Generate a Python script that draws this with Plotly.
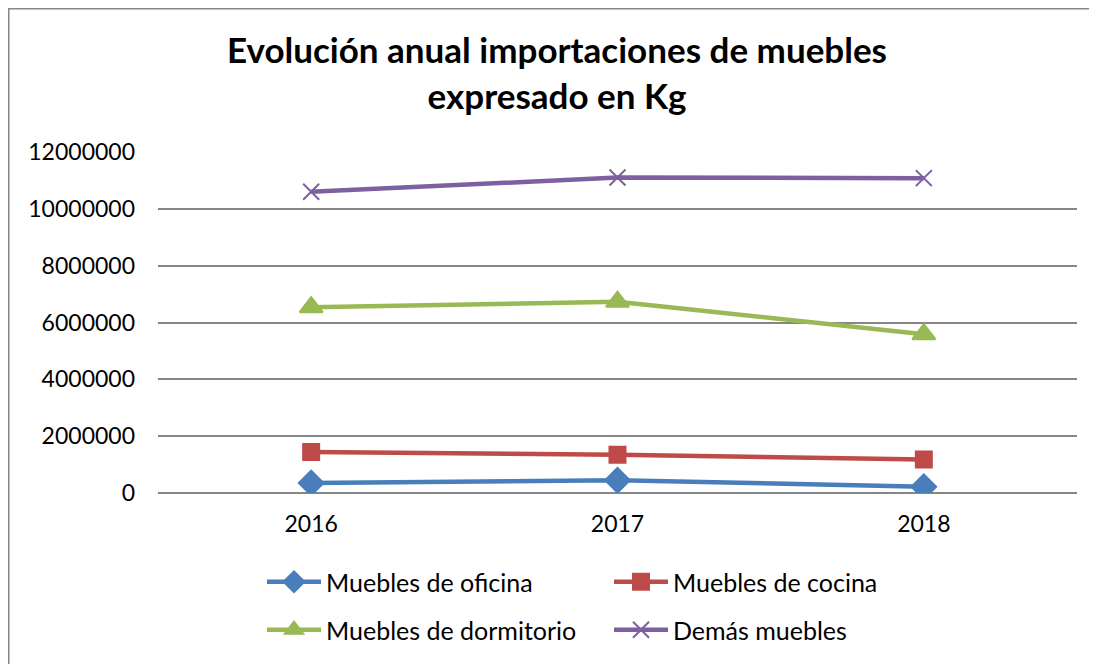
import plotly.graph_objects as go

years = ["2016", "2017", "2018"]
oficina = [350000, 450000, 220000]
cocina = [1440000, 1350000, 1180000]
dormitorio = [6540000, 6730000, 5590000]
demas = [10600000, 11100000, 11080000]
y_ticks = [0, 2000000, 4000000, 6000000, 8000000, 10000000, 12000000]

FONT = "Lato"
W, H = 1097, 664
OFF = 8  # page offset of the figure (body margin)
# plot area in figure pixels
L, R, T, B = 158 - OFF, 1077 - OFF, 152 - OFF, 493 - OFF

series = [
    ("Muebles de oficina", oficina, "#4A7EBB", "diamond", 19, "legend"),
    ("Muebles de cocina", cocina, "#BE4B48", "square", 16, "legend"),
    ("Muebles de dormitorio", dormitorio, "#98B954", "triangle-up", 20, "legend2"),
    ("Demás muebles", demas, "#7D60A0", "x-thin", 16, "legend2"),
]

fig = go.Figure()
for name, vals, col, sym, sz, lg in series:
    fig.add_trace(go.Scatter(
        x=years, y=vals, name=name, mode="lines+markers",
        line=dict(color=col, width=4.5),
        marker=dict(symbol=sym, size=sz, color=col, line=dict(color=col, width=2)),
        legend=lg,
    ))

pw, ph = R - L, B - T
def px_x(x):
    return (x - OFF - L) / pw
def px_y(y):
    return (B - (y - OFF)) / ph

GRID = "#868686"
leg_common = dict(
    orientation="h", xanchor="left", yanchor="middle",
    entrywidth=278, entrywidthmode="pixels", font=dict(size=25),
    bgcolor="rgba(0,0,0,0)", itemwidth=54,
)
fig.update_layout(
    width=W, height=H,
    margin=dict(l=L, r=W - R, t=T, b=H - B),
    paper_bgcolor="white", plot_bgcolor="white",
    font=dict(family=FONT, size=23, color="#000000"),
    title=dict(
        text="<b>Evolución anual importaciones de muebles<br>expresado en Kg</b>",
        x=(557 - OFF) / W, xanchor="center", xref="container",
        y=1 - 55 / H, yanchor="top", yref="container",
        font=dict(family=FONT, size=35, color="#000000"),
    ),
    xaxis=dict(
        type="category", range=[-0.5, 2.5], showgrid=False, showline=False,
        ticks="", tickfont=dict(size=23), zeroline=False, ticklabelstandoff=15,
    ),
    yaxis=dict(
        range=[0, 12000000], tickvals=y_ticks, ticktext=[str(v) for v in y_ticks],
        showgrid=True, gridcolor=GRID, gridwidth=1.5,
        zeroline=True, zerolinecolor=GRID, zerolinewidth=1.5,
        showline=False, ticks="", ticklabelstandoff=22, tickfont=dict(size=23),
    ),
    legend=dict(x=px_x(262), y=px_y(582), **leg_common),
    legend2=dict(x=px_x(262), y=px_y(630), **leg_common),
    shapes=[dict(
        type="rect", xref="paper", yref="paper",
        x0=px_x(OFF + 0.75), x1=px_x(1120), y0=px_y(690), y1=px_y(OFF + 0.75),
        line=dict(color=GRID, width=1.5), fillcolor="rgba(0,0,0,0)", layer="below",
    )],
)

fig.write_html("out.html")
